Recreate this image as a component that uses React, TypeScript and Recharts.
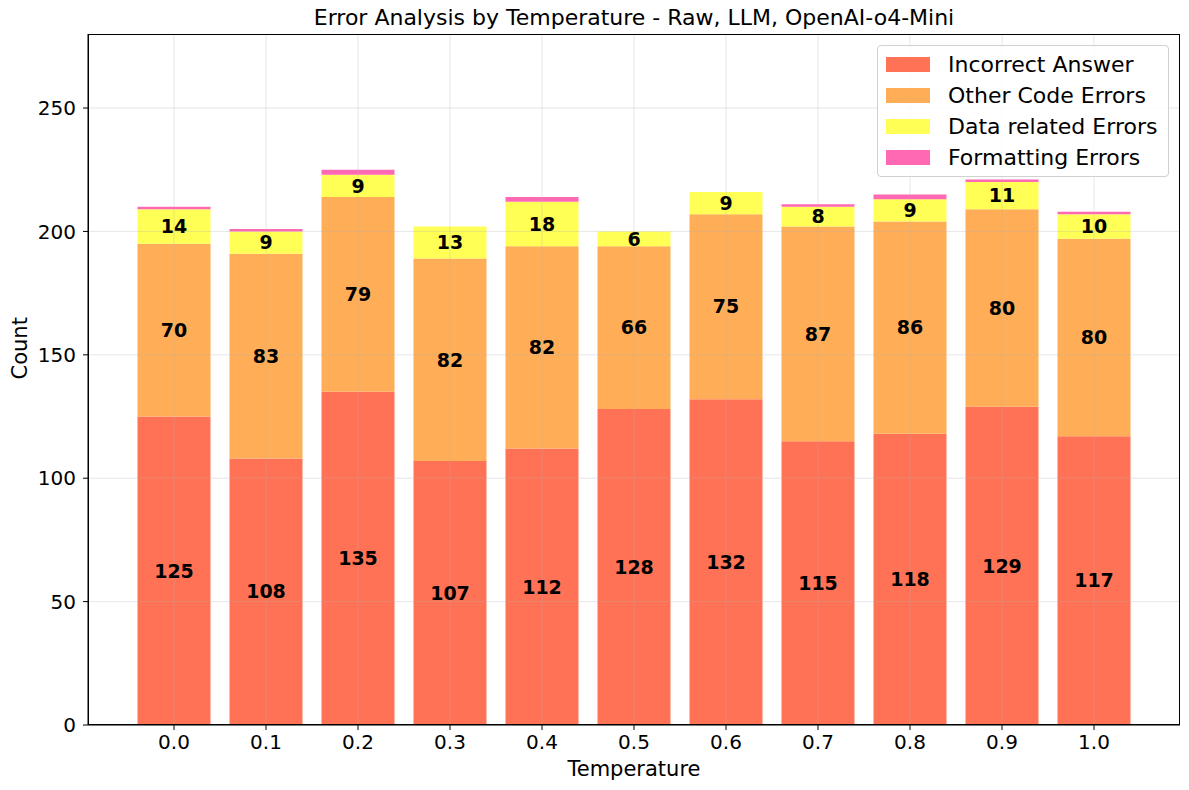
import { ComposedChart, Bar, XAxis, YAxis, ReferenceLine, LabelList } from 'recharts'

const temperatures = ['0.0', '0.1', '0.2', '0.3', '0.4', '0.5', '0.6', '0.7', '0.8', '0.9', '1.0']
const incorrectAnswer = [125, 108, 135, 107, 112, 128, 132, 115, 118, 129, 117]
const otherCodeErrors = [70, 83, 79, 82, 82, 66, 75, 87, 86, 80, 80]
const dataRelatedErrors = [14, 9, 9, 13, 18, 6, 9, 8, 9, 11, 10]
const formattingErrors = [1, 1, 2, 0, 2, 0, 0, 1, 2, 1, 1]
const yTicks = [0, 50, 100, 150, 200, 250]

const series = [
  { key: 'incorrect', name: 'Incorrect Answer', color: '#ff7256', label: true },
  { key: 'other', name: 'Other Code Errors', color: '#ffae57', label: true },
  { key: 'data', name: 'Data related Errors', color: '#ffff55', label: true },
  { key: 'formatting', name: 'Formatting Errors', color: '#ff69b4', label: false },
]

const rows = temperatures.map((t, i) => ({
  temp: t,
  incorrect: incorrectAnswer[i],
  other: otherCodeErrors[i],
  data: dataRelatedErrors[i],
  formatting: formattingErrors[i],
}))

const font = 'DejaVu Sans, sans-serif'
const gridStroke = '#b0b0b0'

function LegendBox() {
  return (
    <div
      style={{
        position: 'absolute',
        left: 877,
        top: 45,
        width: 292,
        height: 132,
        boxSizing: 'border-box',
        border: '1px solid #d0d0d0',
        borderRadius: 4,
        background: 'rgba(255,255,255,0.8)',
        padding: '3px 8px',
        fontFamily: font,
        fontSize: 22,
      }}
    >
      {series.map((s) => (
        <div key={s.key} style={{ display: 'flex', alignItems: 'center', height: 31 }}>
          <span style={{ width: 44, height: 15, background: s.color, display: 'inline-block', marginRight: 18, flexShrink: 0 }} />
          <span style={{ color: '#000', whiteSpace: 'nowrap' }}>{s.name}</span>
        </div>
      ))}
    </div>
  )
}

export default function App() {
  return (
    <div style={{ position: 'absolute', left: 0, top: 0, width: 1189, height: 790, background: '#fff' }}>
      <div
        style={{
          position: 'absolute',
          top: 5,
          left: 88,
          width: 1092,
          textAlign: 'center',
          fontFamily: font,
          fontSize: 22,
        }}
      >
        Error Analysis by Temperature - Raw, LLM, OpenAI-o4-Mini
      </div>
      <ComposedChart
        width={1189}
        height={790}
        data={rows}
        margin={{ top: 34, right: 9, bottom: 0, left: 0 }}
        barCategoryGap={9.5}
      >
        {series.map((s) => (
          <Bar key={s.key} dataKey={s.key} name={s.name} stackId="a" fill={s.color} isAnimationActive={false}>
            {s.label && (
              <LabelList
                dataKey={s.key}
                position="center"
                fill="#000"
                fontWeight="bold"
                fontSize={19}
                fontFamily={font}
              />
            )}
          </Bar>
        ))}
        {/* grid sits over the bars, as in the matplotlib original */}
        {yTicks.map((v) => (
          <ReferenceLine key={'y' + v} y={v} stroke={gridStroke} strokeOpacity={0.3} />
        ))}
        {temperatures.map((t) => (
          <ReferenceLine key={'x' + t} x={t} stroke={gridStroke} strokeOpacity={0.3} />
        ))}
        <XAxis
          dataKey="temp"
          height={65}
          padding={{ left: 40, right: 40 }}
          tick={{ fill: '#000', fontSize: 20, fontFamily: font }}
          tickLine={{ stroke: '#000' }}
          axisLine={{ stroke: '#000' }}
          tickSize={5}
          tickMargin={5}
          label={{ value: 'Temperature', position: 'insideBottom', offset: 14, fill: '#000', fontSize: 21, fontFamily: font }}
        />
        <YAxis
          width={88}
          domain={[0, 280]}
          ticks={yTicks}
          allowDataOverflow
          tick={{ fill: '#000', fontSize: 20, fontFamily: font }}
          tickLine={{ stroke: '#000' }}
          axisLine={{ stroke: '#000' }}
          tickSize={5}
          tickMargin={7}
          label={{ value: 'Count', angle: -90, position: 'insideLeft', offset: 20, fill: '#000', fontSize: 21, fontFamily: font }}
        />
      </ComposedChart>
      <div
        style={{
          position: 'absolute',
          left: 88,
          top: 34,
          width: 1092,
          height: 691,
          border: '1px solid #000',
          boxSizing: 'border-box',
          pointerEvents: 'none',
        }}
      />
      <LegendBox />
    </div>
  )
}
